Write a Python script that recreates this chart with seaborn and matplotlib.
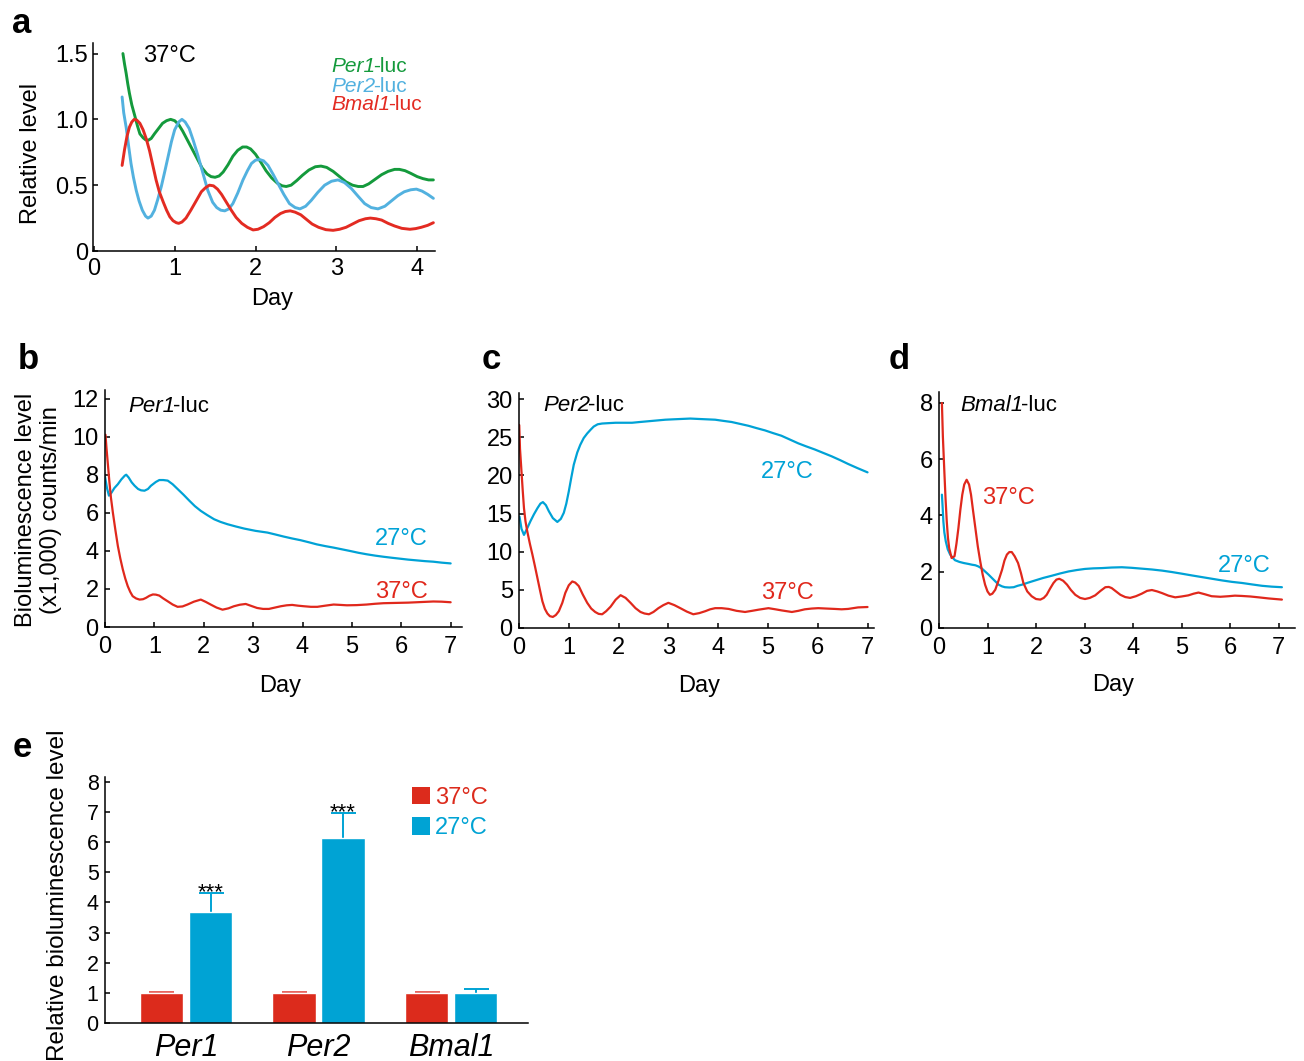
import matplotlib
matplotlib.use("Agg")
import matplotlib.pyplot as plt
from matplotlib.patches import Patch
import numpy as np
import pandas as pd
import seaborn as sns

# ---------------- data ----------------
# Panel a (37 °C, relative level)
per1_a_day = [0.36,0.38,0.40,0.42,0.44,0.47,0.51,0.54,0.57,0.61,0.64,0.67,0.71,0.75,0.80,0.85,0.90,0.95,1.00,1.05,1.10,1.16,1.22,1.28,1.34,1.40,1.45,1.50,1.55,1.60,1.66,1.72,1.78,1.84,1.89,1.94,2.00,2.06,2.13,2.20,2.27,2.33,2.38,2.44,2.51,2.58,2.66,2.74,2.81,2.88,2.96,3.04,3.12,3.20,3.27,3.33,3.40,3.48,3.56,3.64,3.72,3.78,3.85,3.92,4.00,4.07,4.14,4.20]
per1_a_val = [1.50,1.42,1.35,1.27,1.20,1.11,1.02,0.95,0.89,0.86,0.845,0.84,0.855,0.89,0.93,0.97,0.99,1.00,0.99,0.96,0.91,0.84,0.77,0.70,0.63,0.585,0.565,0.56,0.57,0.60,0.655,0.72,0.765,0.79,0.79,0.775,0.735,0.68,0.61,0.555,0.515,0.495,0.49,0.50,0.535,0.575,0.615,0.64,0.645,0.635,0.605,0.565,0.525,0.50,0.49,0.49,0.51,0.545,0.58,0.605,0.62,0.62,0.61,0.59,0.565,0.55,0.54,0.54]

per2_a_day = [0.35,0.37,0.40,0.43,0.46,0.49,0.525,0.56,0.60,0.64,0.67,0.71,0.75,0.79,0.835,0.88,0.92,0.96,1.00,1.05,1.09,1.13,1.18,1.23,1.29,1.35,1.41,1.47,1.52,1.57,1.62,1.67,1.72,1.78,1.845,1.90,1.95,2.00,2.05,2.10,2.155,2.22,2.28,2.35,2.42,2.49,2.55,2.62,2.69,2.77,2.855,2.94,3.02,3.10,3.185,3.27,3.35,3.43,3.515,3.60,3.68,3.76,3.84,3.92,3.99,4.06,4.13,4.20]
per2_a_val = [1.17,1.05,0.94,0.80,0.665,0.56,0.46,0.38,0.31,0.265,0.25,0.265,0.31,0.39,0.49,0.61,0.72,0.83,0.92,0.98,1.00,0.98,0.93,0.84,0.72,0.59,0.46,0.37,0.33,0.31,0.305,0.32,0.36,0.44,0.54,0.61,0.665,0.69,0.695,0.685,0.65,0.58,0.51,0.43,0.36,0.33,0.32,0.34,0.385,0.445,0.50,0.53,0.54,0.52,0.475,0.415,0.36,0.33,0.32,0.34,0.38,0.42,0.45,0.465,0.47,0.455,0.43,0.40]

bmal_a_day = [0.35,0.38,0.41,0.44,0.47,0.50,0.53,0.57,0.61,0.65,0.69,0.73,0.77,0.81,0.86,0.90,0.94,0.98,1.02,1.05,1.09,1.14,1.20,1.27,1.33,1.38,1.43,1.48,1.53,1.58,1.64,1.70,1.76,1.83,1.90,1.97,2.03,2.10,2.17,2.24,2.31,2.37,2.43,2.49,2.56,2.63,2.70,2.78,2.87,2.96,3.04,3.12,3.20,3.28,3.36,3.42,3.49,3.56,3.64,3.72,3.81,3.91,3.98,4.05,4.13,4.20]
bmal_a_val = [0.65,0.77,0.87,0.94,0.98,1.00,0.995,0.97,0.92,0.85,0.76,0.65,0.54,0.45,0.37,0.31,0.26,0.23,0.215,0.21,0.22,0.25,0.31,0.385,0.45,0.48,0.50,0.495,0.47,0.43,0.37,0.31,0.255,0.21,0.18,0.16,0.165,0.185,0.215,0.255,0.285,0.30,0.305,0.295,0.275,0.24,0.205,0.18,0.162,0.157,0.165,0.18,0.205,0.23,0.245,0.25,0.245,0.235,0.21,0.19,0.172,0.165,0.17,0.18,0.195,0.215]

# Panel b (Per1-luc, x1,000 counts/min)
b27_day = [0.00,0.04,0.08,0.13,0.19,0.26,0.33,0.40,0.43,0.48,0.54,0.60,0.67,0.73,0.80,0.87,0.93,0.97,1.03,1.10,1.18,1.27,1.37,1.47,1.59,1.71,1.82,1.94,2.07,2.21,2.34,2.48,2.65,2.82,3.05,3.29,3.45,3.62,3.79,3.96,4.13,4.29,4.46,4.63,4.80,4.97,5.13,5.30,5.47,5.64,5.80,5.97,6.14,6.31,6.48,6.65,6.82,7.00]
b27_val = [7.9,7.3,6.9,7.05,7.3,7.5,7.75,7.95,8.0,7.85,7.6,7.42,7.25,7.18,7.16,7.25,7.42,7.5,7.62,7.72,7.72,7.69,7.5,7.25,6.95,6.63,6.35,6.10,5.88,5.66,5.52,5.40,5.28,5.17,5.05,4.96,4.86,4.75,4.65,4.56,4.45,4.34,4.25,4.17,4.08,3.99,3.90,3.82,3.75,3.69,3.64,3.59,3.54,3.50,3.46,3.43,3.38,3.34]
b37_day = [0.01,0.03,0.06,0.09,0.12,0.16,0.21,0.26,0.31,0.36,0.41,0.46,0.51,0.56,0.63,0.70,0.77,0.83,0.90,0.97,1.03,1.10,1.18,1.27,1.37,1.47,1.57,1.67,1.80,1.94,2.04,2.14,2.26,2.38,2.50,2.61,2.73,2.85,2.97,3.08,3.20,3.32,3.44,3.56,3.68,3.79,3.91,4.03,4.17,4.30,4.46,4.63,4.77,4.90,5.10,5.30,5.47,5.64,5.80,5.97,6.14,6.31,6.48,6.65,6.82,7.00]
b37_val = [10.1,9.4,8.5,7.6,6.8,6.0,5.1,4.26,3.6,3.03,2.55,2.15,1.85,1.62,1.5,1.44,1.46,1.53,1.64,1.71,1.70,1.65,1.50,1.35,1.18,1.06,1.08,1.18,1.33,1.44,1.32,1.18,1.02,0.91,0.98,1.09,1.17,1.21,1.10,1.00,0.95,0.95,1.02,1.09,1.14,1.16,1.12,1.09,1.06,1.06,1.12,1.18,1.16,1.14,1.15,1.18,1.22,1.25,1.26,1.27,1.28,1.30,1.32,1.34,1.33,1.30]

# Panel c (Per2-luc)
c27_day = [0.01,0.05,0.10,0.16,0.23,0.30,0.37,0.43,0.48,0.54,0.60,0.68,0.77,0.84,0.90,0.95,1.00,1.05,1.10,1.17,1.23,1.30,1.37,1.44,1.50,1.58,1.67,1.80,1.94,2.10,2.27,2.43,2.60,2.77,2.94,3.10,3.27,3.44,3.60,3.77,3.94,4.10,4.27,4.44,4.61,4.77,4.94,5.10,5.27,5.44,5.61,5.77,5.94,6.11,6.28,6.45,6.61,6.80,7.00]
c27_val = [14.6,13.0,12.2,13.0,14.0,14.9,15.7,16.3,16.5,16.1,15.3,14.4,13.9,14.3,15.1,16.3,17.9,19.7,21.4,23.0,24.0,24.9,25.5,26.0,26.4,26.7,26.8,26.85,26.9,26.9,26.9,27.0,27.1,27.2,27.3,27.35,27.4,27.45,27.4,27.35,27.3,27.15,27.0,26.75,26.5,26.2,25.9,25.55,25.2,24.7,24.2,23.8,23.4,22.95,22.5,22.0,21.5,20.95,20.4]
c37_day = [0.005,0.02,0.05,0.075,0.10,0.13,0.165,0.22,0.27,0.32,0.37,0.42,0.47,0.52,0.57,0.62,0.68,0.74,0.80,0.87,0.93,1.00,1.07,1.13,1.20,1.28,1.37,1.45,1.53,1.60,1.67,1.75,1.84,1.94,2.04,2.14,2.24,2.34,2.44,2.52,2.61,2.70,2.80,2.90,3.00,3.12,3.24,3.37,3.50,3.62,3.74,3.84,3.94,4.07,4.21,4.37,4.54,4.68,4.81,5.01,5.15,5.28,5.48,5.61,5.74,5.88,6.01,6.17,6.34,6.48,6.61,6.81,7.00]
c37_val = [26.6,23.5,20.5,18.0,15.7,14.0,12.7,11.0,9.6,8.1,6.55,5.0,3.5,2.5,1.9,1.55,1.45,1.7,2.2,3.3,4.6,5.6,6.1,5.95,5.5,4.4,3.3,2.55,2.1,1.85,1.8,2.2,2.8,3.7,4.3,3.95,3.3,2.6,2.1,1.9,1.8,2.1,2.6,3.0,3.3,3.0,2.6,2.15,1.8,1.95,2.2,2.45,2.6,2.6,2.5,2.25,2.1,2.25,2.4,2.6,2.45,2.3,2.1,2.25,2.45,2.55,2.6,2.55,2.5,2.45,2.5,2.7,2.75]

# Panel d (Bmal1-luc)
d37_day = [0.06,0.08,0.11,0.135,0.16,0.185,0.21,0.26,0.32,0.36,0.40,0.44,0.48,0.52,0.57,0.62,0.66,0.70,0.75,0.80,0.85,0.90,0.95,1.00,1.05,1.10,1.16,1.23,1.30,1.35,1.40,1.45,1.50,1.56,1.63,1.69,1.74,1.82,1.91,2.00,2.09,2.16,2.22,2.29,2.36,2.42,2.48,2.56,2.64,2.72,2.81,2.91,3.01,3.11,3.22,3.33,3.43,3.50,3.56,3.65,3.74,3.84,3.94,4.06,4.18,4.29,4.39,4.50,4.60,4.73,4.87,5.00,5.14,5.25,5.35,5.48,5.62,5.80,5.97,6.10,6.24,6.42,6.59,6.80,7.07]
d37_val = [8.0,6.8,5.57,4.6,3.79,3.2,2.84,2.49,2.55,3.0,3.55,4.2,4.74,5.1,5.27,5.1,4.74,4.2,3.55,2.9,2.37,1.9,1.54,1.3,1.18,1.22,1.36,1.7,2.07,2.4,2.61,2.7,2.70,2.55,2.31,1.95,1.60,1.30,1.13,1.03,1.01,1.07,1.18,1.40,1.60,1.72,1.75,1.68,1.54,1.35,1.18,1.07,1.03,1.07,1.16,1.32,1.45,1.46,1.42,1.30,1.18,1.10,1.07,1.13,1.22,1.32,1.35,1.30,1.24,1.15,1.09,1.12,1.16,1.22,1.26,1.20,1.13,1.11,1.13,1.15,1.14,1.12,1.09,1.05,1.01]
d27_day = [0.06,0.075,0.09,0.11,0.14,0.18,0.23,0.28,0.33,0.42,0.51,0.60,0.68,0.75,0.81,0.88,0.95,1.02,1.09,1.16,1.23,1.30,1.36,1.45,1.54,1.62,1.71,1.85,1.98,2.15,2.33,2.50,2.67,2.84,3.01,3.18,3.36,3.56,3.77,3.97,4.18,4.39,4.60,4.80,5.01,5.21,5.42,5.63,5.84,6.04,6.25,6.45,6.66,6.86,7.07]
d27_val = [4.74,4.3,3.79,3.4,3.08,2.8,2.61,2.5,2.41,2.35,2.31,2.28,2.25,2.23,2.19,2.12,2.01,1.9,1.78,1.66,1.54,1.48,1.45,1.44,1.45,1.50,1.54,1.62,1.69,1.78,1.86,1.94,2.01,2.06,2.10,2.12,2.13,2.15,2.16,2.14,2.11,2.08,2.04,1.99,1.93,1.87,1.81,1.75,1.69,1.64,1.60,1.55,1.50,1.47,1.45]

# Panel e (relative bioluminescence level)
genes = ["Per1", "Per2", "Bmal1"]
temps = ["37°C", "27°C"]
mean37 = [1.0, 1.0, 1.0]
mean27 = [3.68, 6.15, 1.0]
err37 = [0.04, 0.04, 0.04]
err27 = [0.62, 0.83, 0.14]
signif27 = ["***", "***", ""]

# ---------------- style ----------------
RED = "#e0281c"
BLUE = "#00a2d6"
GREEN = "#149a3c"
LBLUE = "#52b1df"
LRED = "#e32b22"
BAR_RED = "#dc2b1c"
BAR_BLUE = "#00a3d4"

sns.set_theme(style="ticks")
plt.rcParams["font.family"] = ["Liberation Sans", "DejaVu Sans"]
plt.rcParams.update({
    "axes.linewidth": 1.1,
    "axes.edgecolor": "black",
    "axes.labelcolor": "black",
    "text.color": "black",
    "xtick.color": "black",
    "ytick.color": "black",
    "xtick.direction": "in",
    "ytick.direction": "in",
    "xtick.major.size": 3.8,
    "ytick.major.size": 3.8,
    "xtick.major.width": 1.1,
    "ytick.major.width": 1.1,
})

W, H = 1304, 1061
fig = plt.figure(figsize=(W / 100, H / 100), dpi=100)


def add_axes(l, t, r, b):
    return fig.add_axes([l / W, 1 - b / H, (r - l) / W, (b - t) / H])


def style_axis(ax, xlabel, ylabel, xl_pos, yl_pos, tick_fs=17, xpad=6.5, ypad=4.5):
    sns.despine(ax=ax)
    ax.tick_params(axis="x", labelsize=tick_fs, pad=xpad)
    ax.tick_params(axis="y", labelsize=tick_fs, pad=ypad)
    ax.set_xlabel(xlabel, fontsize=17)
    ax.set_ylabel(ylabel, fontsize=17, multialignment="center", linespacing=1.15)
    ax.xaxis.set_label_coords(*xl_pos)
    ax.yaxis.set_label_coords(*yl_pos)
    ax.xaxis.label.set_va("center")
    ax.yaxis.label.set_va("center")
    ax.grid(False)


def line(ax, x, y, color, lw):
    sns.lineplot(x=x, y=y, ax=ax, color=color, lw=lw, estimator=None,
                 sort=False, legend=False)


def gene_label(ax, x, y, gene, suffix, fs, color="black"):
    t = ax.text(x, y, gene, fontsize=fs, color=color, style="italic",
                va="baseline", ha="left")
    ax.annotate(suffix, xy=(1, 0), xycoords=t, xytext=(-1.8, 0),
                textcoords="offset points", fontsize=fs, color=color,
                va="bottom", ha="left")


# ---------------- panel a ----------------
axa = add_axes(93, 43, 435, 251)
line(axa, per1_a_day, per1_a_val, GREEN, 2.1)
line(axa, per2_a_day, per2_a_val, LBLUE, 2.1)
line(axa, bmal_a_day, bmal_a_val, LRED, 2.1)
axa.set_xlim(-0.01, 4.22)
axa.set_ylim(0, 1.58)
axa.set_xticks([0, 1, 2, 3, 4])
axa.set_yticks([0, 0.5, 1.0, 1.5])
axa.set_yticklabels(["0", "0.5", "1.0", "1.5"])
style_axis(axa, "Day", "Relative level", (0.523, -0.232), (-0.18, 0.47),
           xpad=5, ypad=3.5)
axa.text(0.604, 1.437, "37°C", fontsize=17, va="baseline", ha="left")
for g, yv, col in [("Per1", 1.363, GREEN), ("Per2", 1.211, LBLUE),
                   ("Bmal1", 1.072, LRED)]:
    gene_label(axa, 2.944, yv, g, "-luc", 15, col)

# ---------------- panel b ----------------
axb = add_axes(105, 390, 462, 627)
line(axb, b27_day, b27_val, BLUE, 1.6)
line(axb, b37_day, b37_val, RED, 1.6)
axb.set_xlim(0, 7.23)
axb.set_ylim(0, 12.45)
axb.set_xticks(range(0, 8))
axb.set_yticks(range(0, 13, 2))
style_axis(axb, "Day", "Bioluminescence level\n(x1,000) counts/min",
           (0.49, -0.248), (-0.186, 0.494))
gene_label(axb, 0.47, 11.29, "Per1", "-luc", 16)
axb.text(5.47, 4.30, "27°C", fontsize=17, color=BLUE, va="baseline")
axb.text(5.47, 1.53, "37°C", fontsize=17, color=RED, va="baseline")

# ---------------- panel c ----------------
axc = add_axes(519, 393, 874, 628)
line(axc, c27_day, c27_val, BLUE, 1.6)
line(axc, c37_day, c37_val, RED, 1.6)
axc.set_xlim(0, 7.13)
axc.set_ylim(0, 30.8)
axc.set_xticks(range(0, 8))
axc.set_yticks(range(0, 31, 5))
style_axis(axc, "Day", "", (0.507, -0.245), (-0.2, 0.5))
gene_label(axc, 0.49, 28.47, "Per2", "-luc", 16)
axc.text(4.86, 19.65, "27°C", fontsize=17, color=BLUE, va="baseline")
axc.text(4.86, 3.84, "37°C", fontsize=17, color=RED, va="baseline")

# ---------------- panel d ----------------
axd = add_axes(939, 392, 1295, 628)
line(axd, d27_day, d27_val, BLUE, 1.6)
line(axd, d37_day, d37_val, RED, 1.6)
axd.set_xlim(0, 7.34)
axd.set_ylim(0, 8.39)
axd.set_xticks(range(0, 8))
axd.set_yticks(range(0, 9, 2))
style_axis(axd, "Day", "", (0.489, -0.243), (-0.2, 0.5))
gene_label(axd, 0.433, 7.73, "Bmal1", "-luc", 16)
axd.text(0.88, 4.42, "37°C", fontsize=17, color=RED, va="baseline")
axd.text(5.75, 1.98, "27°C", fontsize=17, color=BLUE, va="baseline")

# ---------------- panel e ----------------
axe = add_axes(105, 777, 528, 1023)
df = pd.DataFrame({
    "gene": genes * 2,
    "temp": [temps[0]] * len(genes) + [temps[1]] * len(genes),
    "level": mean37 + mean27,
})
sns.barplot(data=df, x="gene", y="level", hue="temp", order=genes,
            hue_order=temps, palette=[BAR_RED, BAR_BLUE], width=0.74,
            gap=0.12, errorbar=None, legend=False, saturation=1, ax=axe,
            zorder=2)
errs = err37 + err27
cols = ["#e8605a"] * len(genes) + [BAR_BLUE] * len(genes)
marks = [""] * len(genes) + signif27
for p, e, c, m in zip(axe.patches, errs, cols, marks):
    xc = p.get_x() + p.get_width() / 2
    h = p.get_height()
    # symmetric SEM bar; the lower half is hidden behind the bar itself
    axe.errorbar(xc, h, yerr=e, fmt="none", ecolor=c,
                 elinewidth=1.4, capsize=9, capthick=1.4, zorder=1)
    if m:
        axe.text(xc, h + e - 0.17, m, ha="center", va="baseline", fontsize=16)
axe.set_xlim(-0.611, 2.58)
axe.set_ylim(0, 8.16)
axe.set_yticks(range(0, 9))
sns.despine(ax=axe)
axe.tick_params(axis="y", labelsize=15.5, pad=4.5)
axe.tick_params(axis="x", length=0, labelsize=22, pad=7)
for lbl in axe.get_xticklabels():
    lbl.set_fontstyle("italic")
axe.set_xlabel("")
axe.set_ylabel("Relative bioluminescence level", fontsize=17.5)
axe.yaxis.set_label_coords(-0.112, 0.52)
axe.yaxis.label.set_va("center")
axe.grid(False)
handles = [Patch(facecolor=BAR_RED, edgecolor="none", label=temps[0]),
           Patch(facecolor=BAR_BLUE, edgecolor="none", label=temps[1])]
axe.legend(handles=handles, loc="upper left", bbox_to_anchor=(0.726, 0.96),
           frameon=False, fontsize=17, handlelength=0.76, handleheight=0.76,
           handletextpad=0.2, labelspacing=0.36, borderpad=0,
           borderaxespad=0, labelcolor=[BAR_RED, BAR_BLUE])

# ---------------- panel letters ----------------
for letter, x, y in [("a", 22, 33), ("b", 28, 369), ("c", 491, 369),
                     ("d", 899, 369), ("e", 22, 757)]:
    fig.text(x / W, 1 - y / H, letter, fontsize=25, fontweight="bold",
             ha="center", va="baseline")

fig.savefig("out.png", dpi=100)
